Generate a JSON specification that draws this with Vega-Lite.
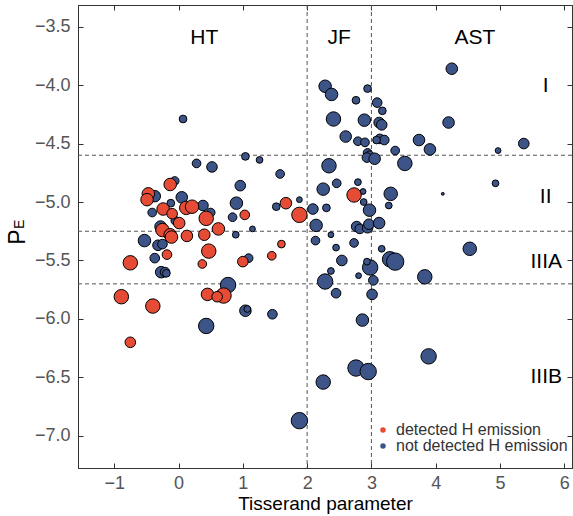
{
  "$schema": "https://vega.github.io/schema/vega-lite/v6.json",
  "width": 494,
  "height": 463,
  "autosize": {"type": "none"},
  "padding": {"left": 78, "top": 5, "right": 1, "bottom": 48},
  "config": {
    "view": {"stroke": "#333", "strokeWidth": 1},
    "font": "Liberation Sans",
    "axis": {
      "grid": false,
      "domainColor": "#333",
      "tickColor": "#333",
      "tickSize": -5,
      "labelFont": "Liberation Sans",
      "labelFontSize": 18,
      "labelColor": "#555",
      "titleFont": "Liberation Sans",
      "titleFontWeight": "normal",
      "titleColor": "#000"
    },
    "legend": {
      "orient": "none",
      "legendX": 297,
      "legendY": 417,
      "padding": 0,
      "labelFont": "Liberation Sans",
      "labelFontSize": 16,
      "labelColor": "#333",
      "labelLimit": 400,
      "symbolSize": 30,
      "symbolType": "circle",
      "symbolStrokeWidth": 0,
      "labelOffset": 5,
      "rowPadding": -2
    }
  },
  "datasets": {
    "pts": [
      {"T": 0.07, "PE": -4.29, "diam": 8, "H": "not detected H emission"},
      {"T": 0.28, "PE": -4.67, "diam": 9, "H": "not detected H emission"},
      {"T": 0.52, "PE": -4.70, "diam": 11, "H": "not detected H emission"},
      {"T": 1.04, "PE": -4.61, "diam": 8, "H": "not detected H emission"},
      {"T": 1.26, "PE": -4.64, "diam": 7, "H": "not detected H emission"},
      {"T": 1.58, "PE": -4.76, "diam": 9, "H": "not detected H emission"},
      {"T": 0.96, "PE": -4.86, "diam": 11, "H": "not detected H emission"},
      {"T": -0.06, "PE": -4.82, "diam": 9, "H": "not detected H emission"},
      {"T": -0.37, "PE": -4.95, "diam": 12, "H": "not detected H emission"},
      {"T": 0.05, "PE": -4.96, "diam": 12, "H": "not detected H emission"},
      {"T": -0.12, "PE": -5.01, "diam": 8, "H": "not detected H emission"},
      {"T": 0.90, "PE": -5.01, "diam": 13, "H": "not detected H emission"},
      {"T": 0.38, "PE": -5.03, "diam": 11, "H": "not detected H emission"},
      {"T": 0.50, "PE": -5.09, "diam": 9, "H": "not detected H emission"},
      {"T": -0.41, "PE": -5.09, "diam": 9, "H": "not detected H emission"},
      {"T": 0.84, "PE": -5.13, "diam": 9, "H": "not detected H emission"},
      {"T": -0.05, "PE": -5.16, "diam": 9, "H": "not detected H emission"},
      {"T": -0.28, "PE": -5.21, "diam": 12, "H": "not detected H emission"},
      {"T": 1.15, "PE": -5.23, "diam": 6, "H": "not detected H emission"},
      {"T": 0.89, "PE": -5.28, "diam": 7, "H": "not detected H emission"},
      {"T": 1.52, "PE": -5.04, "diam": 8, "H": "not detected H emission"},
      {"T": 1.88, "PE": -4.98, "diam": 6, "H": "not detected H emission"},
      {"T": -0.53, "PE": -5.33, "diam": 13, "H": "not detected H emission"},
      {"T": -0.32, "PE": -5.37, "diam": 11, "H": "not detected H emission"},
      {"T": -0.25, "PE": -5.36, "diam": 10, "H": "not detected H emission"},
      {"T": -0.37, "PE": -5.48, "diam": 10, "H": "not detected H emission"},
      {"T": 1.09, "PE": -5.48, "diam": 9, "H": "not detected H emission"},
      {"T": -0.27, "PE": -5.60, "diam": 12, "H": "not detected H emission"},
      {"T": -0.21, "PE": -5.60, "diam": 10, "H": "not detected H emission"},
      {"T": -0.19, "PE": -5.61, "diam": 8, "H": "not detected H emission"},
      {"T": 0.77, "PE": -5.71, "diam": 16, "H": "not detected H emission"},
      {"T": 1.04, "PE": -5.93, "diam": 12, "H": "not detected H emission"},
      {"T": 1.07, "PE": -5.915, "diam": 7, "H": "not detected H emission"},
      {"T": 1.46, "PE": -5.96, "diam": 10, "H": "not detected H emission"},
      {"T": 0.43, "PE": -6.06, "diam": 16, "H": "not detected H emission"},
      {"T": 1.88, "PE": -6.87, "diam": 17, "H": "not detected H emission"},
      {"T": 2.25, "PE": -6.54, "diam": 15, "H": "not detected H emission"},
      {"T": 2.76, "PE": -6.42, "diam": 17, "H": "not detected H emission"},
      {"T": 2.95, "PE": -6.45, "diam": 17, "H": "not detected H emission"},
      {"T": 3.89, "PE": -6.32, "diam": 16, "H": "not detected H emission"},
      {"T": 2.86, "PE": -6.01, "diam": 13, "H": "not detected H emission"},
      {"T": 2.45, "PE": -5.78, "diam": 10, "H": "not detected H emission"},
      {"T": 3.01, "PE": -5.79, "diam": 11, "H": "not detected H emission"},
      {"T": 2.28, "PE": -5.68, "diam": 16, "H": "not detected H emission"},
      {"T": 3.03, "PE": -5.67, "diam": 10, "H": "not detected H emission"},
      {"T": 3.83, "PE": -5.64, "diam": 15, "H": "not detected H emission"},
      {"T": 2.80, "PE": -5.63, "diam": 6, "H": "not detected H emission"},
      {"T": 2.37, "PE": -5.59, "diam": 7, "H": "not detected H emission"},
      {"T": 2.54, "PE": -5.50, "diam": 11, "H": "not detected H emission"},
      {"T": 2.98, "PE": -5.56, "diam": 16, "H": "not detected H emission"},
      {"T": 2.93, "PE": -5.51, "diam": 7, "H": "not detected H emission"},
      {"T": 3.29, "PE": -5.49, "diam": 16, "H": "not detected H emission"},
      {"T": 3.37, "PE": -5.51, "diam": 18, "H": "not detected H emission"},
      {"T": 4.53, "PE": -5.40, "diam": 14, "H": "not detected H emission"},
      {"T": 3.16, "PE": -5.40, "diam": 7, "H": "not detected H emission"},
      {"T": 2.73, "PE": -5.35, "diam": 9, "H": "not detected H emission"},
      {"T": 2.45, "PE": -5.39, "diam": 7, "H": "not detected H emission"},
      {"T": 2.13, "PE": -5.33, "diam": 9, "H": "not detected H emission"},
      {"T": 2.37, "PE": -5.28, "diam": 6, "H": "not detected H emission"},
      {"T": 2.14, "PE": -5.20, "diam": 13, "H": "not detected H emission"},
      {"T": 2.77, "PE": -5.21, "diam": 11, "H": "not detected H emission"},
      {"T": 2.82, "PE": -5.23, "diam": 10, "H": "not detected H emission"},
      {"T": 2.94, "PE": -5.22, "diam": 11, "H": "not detected H emission"},
      {"T": 2.96, "PE": -5.19, "diam": 11, "H": "not detected H emission"},
      {"T": 3.12, "PE": -5.18, "diam": 12, "H": "not detected H emission"},
      {"T": 2.09, "PE": -5.06, "diam": 11, "H": "not detected H emission"},
      {"T": 2.30, "PE": -5.05, "diam": 8, "H": "not detected H emission"},
      {"T": 2.97, "PE": -5.07, "diam": 13, "H": "not detected H emission"},
      {"T": 2.88, "PE": -5.00, "diam": 7, "H": "not detected H emission"},
      {"T": 3.27, "PE": -5.03, "diam": 7, "H": "not detected H emission"},
      {"T": 3.30, "PE": -4.93, "diam": 14, "H": "not detected H emission"},
      {"T": 2.87, "PE": -4.91, "diam": 6, "H": "not detected H emission"},
      {"T": 2.79, "PE": -4.83, "diam": 7, "H": "not detected H emission"},
      {"T": 2.46, "PE": -4.84, "diam": 9, "H": "not detected H emission"},
      {"T": 2.25, "PE": -4.89, "diam": 13, "H": "not detected H emission"},
      {"T": 2.34, "PE": -4.69, "diam": 15, "H": "not detected H emission"},
      {"T": 3.52, "PE": -4.67, "diam": 15, "H": "not detected H emission"},
      {"T": 2.94, "PE": -4.58, "diam": 9, "H": "not detected H emission"},
      {"T": 2.97, "PE": -4.60, "diam": 9, "H": "not detected H emission"},
      {"T": 2.93, "PE": -4.62, "diam": 10, "H": "not detected H emission"},
      {"T": 3.05, "PE": -4.63, "diam": 12, "H": "not detected H emission"},
      {"T": 3.37, "PE": -4.56, "diam": 9, "H": "not detected H emission"},
      {"T": 3.91, "PE": -4.55, "diam": 12, "H": "not detected H emission"},
      {"T": 3.74, "PE": -4.47, "diam": 12, "H": "not detected H emission"},
      {"T": 4.97, "PE": -4.56, "diam": 6, "H": "not detected H emission"},
      {"T": 5.37, "PE": -4.50, "diam": 11, "H": "not detected H emission"},
      {"T": 4.93, "PE": -4.84, "diam": 7, "H": "not detected H emission"},
      {"T": 4.11, "PE": -4.93, "diam": 3, "H": "not detected H emission"},
      {"T": 4.20, "PE": -4.32, "diam": 12, "H": "not detected H emission"},
      {"T": 4.25, "PE": -3.86, "diam": 12, "H": "not detected H emission"},
      {"T": 2.60, "PE": -4.44, "diam": 12, "H": "not detected H emission"},
      {"T": 2.79, "PE": -4.48, "diam": 9, "H": "not detected H emission"},
      {"T": 2.90, "PE": -4.49, "diam": 9, "H": "not detected H emission"},
      {"T": 3.13, "PE": -4.46, "diam": 10, "H": "not detected H emission"},
      {"T": 3.20, "PE": -4.47, "diam": 10, "H": "not detected H emission"},
      {"T": 3.08, "PE": -4.47, "diam": 8, "H": "not detected H emission"},
      {"T": 2.41, "PE": -4.29, "diam": 15, "H": "not detected H emission"},
      {"T": 2.89, "PE": -4.30, "diam": 13, "H": "not detected H emission"},
      {"T": 3.12, "PE": -4.32, "diam": 11, "H": "not detected H emission"},
      {"T": 3.16, "PE": -4.34, "diam": 11, "H": "not detected H emission"},
      {"T": 2.76, "PE": -4.13, "diam": 8, "H": "not detected H emission"},
      {"T": 3.09, "PE": -4.15, "diam": 10, "H": "not detected H emission"},
      {"T": 3.17, "PE": -4.22, "diam": 8, "H": "not detected H emission"},
      {"T": 2.94, "PE": -4.03, "diam": 8, "H": "not detected H emission"},
      {"T": 2.28, "PE": -4.01, "diam": 13, "H": "not detected H emission"},
      {"T": 2.38, "PE": -4.08, "diam": 13, "H": "not detected H emission"},
      {"T": -0.13, "PE": -4.85, "diam": 13, "H": "detected H emission"},
      {"T": -0.47, "PE": -4.93, "diam": 13, "H": "detected H emission"},
      {"T": -0.49, "PE": -4.98, "diam": 13, "H": "detected H emission"},
      {"T": -0.24, "PE": -5.06, "diam": 13, "H": "detected H emission"},
      {"T": -0.10, "PE": -5.10, "diam": 11, "H": "detected H emission"},
      {"T": 0.12, "PE": -5.05, "diam": 14, "H": "detected H emission"},
      {"T": 0.21, "PE": -5.04, "diam": 14, "H": "detected H emission"},
      {"T": 0.43, "PE": -5.14, "diam": 15, "H": "detected H emission"},
      {"T": 1.03, "PE": -5.11, "diam": 10, "H": "detected H emission"},
      {"T": 0.01, "PE": -5.18, "diam": 12, "H": "detected H emission"},
      {"T": -0.25, "PE": -5.24, "diam": 14, "H": "detected H emission"},
      {"T": -0.13, "PE": -5.28, "diam": 13, "H": "detected H emission"},
      {"T": -0.11, "PE": -5.30, "diam": 13, "H": "detected H emission"},
      {"T": 0.13, "PE": -5.29, "diam": 12, "H": "detected H emission"},
      {"T": 0.40, "PE": -5.28, "diam": 12, "H": "detected H emission"},
      {"T": 0.62, "PE": -5.23, "diam": 13, "H": "detected H emission"},
      {"T": 1.67, "PE": -5.01, "diam": 12, "H": "detected H emission"},
      {"T": 1.88, "PE": -5.11, "diam": 16, "H": "detected H emission"},
      {"T": 0.47, "PE": -5.42, "diam": 15, "H": "detected H emission"},
      {"T": -0.75, "PE": -5.52, "diam": 15, "H": "detected H emission"},
      {"T": -0.18, "PE": -5.45, "diam": 10, "H": "detected H emission"},
      {"T": 0.37, "PE": -5.53, "diam": 9, "H": "detected H emission"},
      {"T": 1.00, "PE": -5.51, "diam": 11, "H": "detected H emission"},
      {"T": 1.45, "PE": -5.46, "diam": 9, "H": "detected H emission"},
      {"T": 1.60, "PE": -5.36, "diam": 8, "H": "detected H emission"},
      {"T": 0.45, "PE": -5.79, "diam": 13, "H": "detected H emission"},
      {"T": 0.70, "PE": -5.80, "diam": 16, "H": "detected H emission"},
      {"T": 0.60, "PE": -5.81, "diam": 11, "H": "detected H emission"},
      {"T": -0.89, "PE": -5.81, "diam": 15, "H": "detected H emission"},
      {"T": -0.40, "PE": -5.89, "diam": 15, "H": "detected H emission"},
      {"T": -0.75, "PE": -6.20, "diam": 11, "H": "detected H emission"},
      {"T": 2.73, "PE": -4.94, "diam": 15, "H": "detected H emission"}
    ],
    "vl": [{"T": 2}, {"T": 3}],
    "hl": [{"PE": -4.6}, {"PE": -5.25}, {"PE": -5.7}],
    "ann": [
      {"label": "HT", "T": 0.40, "PE": -3.60},
      {"label": "JF", "T": 2.50, "PE": -3.60},
      {"label": "AST", "T": 4.61, "PE": -3.60},
      {"label": "I", "T": 5.71, "PE": -4.005},
      {"label": "II", "T": 5.71, "PE": -4.955},
      {"label": "IIIA", "T": 5.72, "PE": -5.51},
      {"label": "IIIB", "T": 5.72, "PE": -6.50}
    ],
    "sub": [{"t": "E", "T": -2.46, "PE": -5.19}]
  },
  "layer": [
    {
      "data": {"name": "vl"},
      "mark": {"type": "rule", "strokeDash": [4, 3], "color": "#555", "strokeWidth": 1},
      "encoding": {
        "x": {
          "field": "T", "type": "quantitative",
          "scale": {"domain": [-1.564, 6.12], "nice": false, "zero": false},
          "axis": {"orient": "top", "values": [-1, 0, 1, 2, 3, 4, 5, 6], "labels": false, "title": null}
        }
      }
    },
    {
      "data": {"name": "hl"},
      "mark": {"type": "rule", "strokeDash": [4, 3], "color": "#555", "strokeWidth": 1},
      "encoding": {
        "y": {
          "field": "PE", "type": "quantitative",
          "scale": {"domain": [-7.275, -3.315], "nice": false, "zero": false},
          "axis": {"orient": "right", "values": [-3.5, -4, -4.5, -5, -5.5, -6, -6.5, -7], "labels": false, "title": null}
        }
      }
    },
    {
      "data": {"name": "pts"},
      "mark": {"type": "circle", "stroke": "black", "strokeWidth": 1, "opacity": 1},
      "encoding": {
        "x": {
          "field": "T", "type": "quantitative",
          "scale": {"domain": [-1.564, 6.12], "nice": false, "zero": false},
          "axis": {"orient": "bottom", "values": [-1, 0, 1, 2, 3, 4, 5, 6], "format": "d", "labelPadding": 11, "title": "Tisserand parameter", "titleFontSize": 19, "titlePadding": 2}
        },
        "y": {
          "field": "PE", "type": "quantitative",
          "scale": {"domain": [-7.275, -3.315], "nice": false, "zero": false},
          "axis": {"orient": "left", "values": [-3.5, -4, -4.5, -5, -5.5, -6, -6.5, -7], "format": ".1f", "labelPadding": 13, "title": "P", "titleFontSize": 23, "titlePadding": 5}
        },
        "fill": {
          "field": "H", "type": "nominal",
          "scale": {"domain": ["detected H emission", "not detected H emission"], "range": ["#E64B35", "#3C5488"]},
          "legend": {"title": null}
        },
        "size": {
          "field": "diam", "type": "quantitative",
          "scale": {"type": "pow", "exponent": 2, "domain": [0, 25], "range": [0, 580]},
          "legend": null
        }
      }
    },
    {
      "data": {"name": "ann"},
      "mark": {"type": "text", "fontSize": 21, "color": "#000", "align": "center", "baseline": "middle", "font": "Liberation Sans"},
      "encoding": {
        "x": {"field": "T", "type": "quantitative", "scale": {"domain": [-1.564, 6.12], "nice": false, "zero": false}, "axis": null},
        "y": {"field": "PE", "type": "quantitative", "scale": {"domain": [-7.275, -3.315], "nice": false, "zero": false}, "axis": null},
        "text": {"field": "label"}
      }
    },
    {
      "data": {"name": "sub"},
      "mark": {"type": "text", "fontSize": 14, "color": "#000", "align": "center", "baseline": "middle", "angle": 270, "font": "Liberation Sans"},
      "encoding": {
        "x": {"field": "T", "type": "quantitative", "scale": {"domain": [-1.564, 6.12], "nice": false, "zero": false}, "axis": null},
        "y": {"field": "PE", "type": "quantitative", "scale": {"domain": [-7.275, -3.315], "nice": false, "zero": false}, "axis": null},
        "text": {"field": "t"}
      }
    }
  ],
  "resolve": {"axis": {"x": "independent", "y": "independent"}}
}
